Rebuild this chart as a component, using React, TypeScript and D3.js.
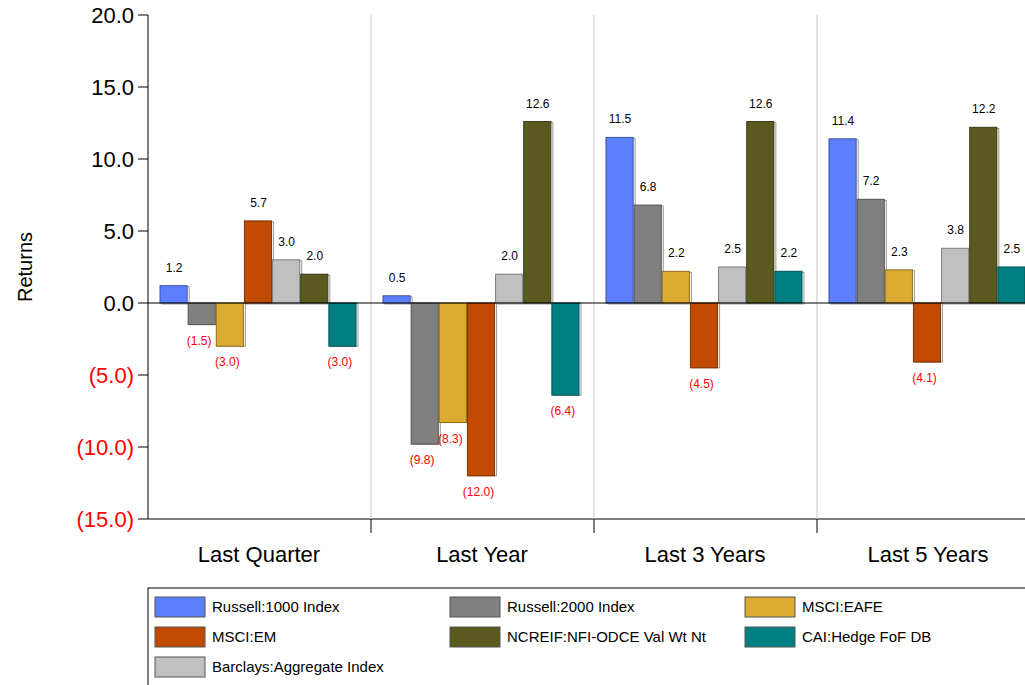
import { useEffect, useRef } from "react";
import * as d3 from "d3";

const PERIODS = ["Last Quarter", "Last Year", "Last 3 Years", "Last 5 Years"];
const SERIES = [
  "Russell:1000 Index",
  "Russell:2000 Index",
  "MSCI:EAFE",
  "MSCI:EM",
  "NCREIF:NFI-ODCE Val Wt Nt",
  "CAI:Hedge FoF DB",
  "Barclays:Aggregate Index",
];
const COLORS = ["#5b7fff", "#808080", "#dcab31", "#c04a00", "#5a5a20", "#008080", "#c0c0c0"];
// values per period, in SERIES order
const R1000 = [1.2, 0.5, 11.5, 11.4];
const R2000 = [-1.5, -9.8, 6.8, 7.2];
const EAFE = [-3.0, -8.3, 2.2, 2.3];
const EM = [5.7, -12.0, -4.5, -4.1];
const NCREIF = [2.0, 12.6, 12.6, 12.2];
const HEDGE = [-3.0, -6.4, 2.2, 2.5];
const BARC = [3.0, 2.0, 2.5, 3.8];
const VALUES = [R1000, R2000, EAFE, EM, NCREIF, HEDGE, BARC];
// bar order in each group
const BAR_ORDER = [0, 1, 2, 3, 6, 4, 5];
const Y_TICKS = [20, 15, 10, 5, 0, -5, -10, -15];

const fmt = (v: number) => (v < 0 ? `(${Math.abs(v).toFixed(1)})` : v.toFixed(1));

const App = () => {
  const svgRef = useRef<SVGSVGElement | null>(null);

  useEffect(() => {
    if (!svgRef.current) return;
    const svg = d3.select(svgRef.current);
    svg.selectAll("*").remove();
    svg.style("font-family", "Liberation Sans, Arial, sans-serif");

    const left = 148;
    const x = d3.scaleBand<string>().domain(PERIODS).range([left, left + 223 * 4]);
    const y = d3.scaleLinear().domain([-15, 20]).range([519, 15]);
    const inner = d3
      .scaleBand<number>()
      .domain(BAR_ORDER)
      .range([12, 223 - 14]);

    // axis lines
    svg.append("line").attr("x1", left).attr("x2", left).attr("y1", 15).attr("y2", 519).attr("stroke", "#000");
    svg.append("line").attr("x1", left).attr("x2", 1025).attr("y1", 519).attr("y2", 519).attr("stroke", "#000");
    PERIODS.slice(1).forEach((p) => {
      const px = x(p)!;
      svg.append("line").attr("x1", px).attr("x2", px).attr("y1", 15).attr("y2", 519).attr("stroke", "#c8c8c8");
      svg.append("line").attr("x1", px).attr("x2", px).attr("y1", 519).attr("y2", 533).attr("stroke", "#000");
    });

    Y_TICKS.forEach((t) => {
      svg.append("line").attr("x1", left - 10).attr("x2", left).attr("y1", y(t)).attr("y2", y(t)).attr("stroke", "#000");
      svg
        .append("text")
        .attr("x", left - 14)
        .attr("y", y(t))
        .attr("dy", "0.35em")
        .attr("text-anchor", "end")
        .attr("font-size", 22)
        .attr("fill", t < 0 ? "#ff0000" : "#000")
        .text(fmt(t));
    });

    svg
      .append("text")
      .attr("transform", `translate(32, ${y(2.5)}) rotate(-90)`)
      .attr("text-anchor", "middle")
      .attr("font-size", 20)
      .text("Returns");

    PERIODS.forEach((p, pi) => {
      const g = svg.append("g").attr("transform", `translate(${x(p)},0)`);
      BAR_ORDER.forEach((si) => {
        const v = VALUES[si][pi];
        const bx = inner(si)!;
        const bw = inner.bandwidth();
        const top = y(Math.max(0, v));
        const h = Math.abs(y(v) - y(0));
        const c = COLORS[si];
        g.append("rect")
          .attr("x", bx + 2)
          .attr("y", top + (v > 0 ? 1 : 0))
          .attr("width", bw - 1)
          .attr("height", h)
          .attr("fill", "none")
          .attr("stroke", "#999")
          .attr("stroke-width", 1);
        g.append("rect")
          .attr("x", bx)
          .attr("y", top)
          .attr("width", bw - 1)
          .attr("height", h)
          .attr("fill", c)
          .attr("stroke", d3.color(c)!.darker(1.2).toString())
          .attr("stroke-width", 1);
        g.append("text")
          .attr("x", bx + bw / 2 - (v < 0 ? 3 : 0))
          .attr("y", v >= 0 ? y(v) - 14 : y(v) + 20)
          .attr("text-anchor", "middle")
          .attr("font-size", 12)
          .attr("fill", v < 0 ? "#ff0000" : "#000")
          .text(fmt(v));
      });
      svg
        .append("text")
        .attr("x", x(p)! + 111)
        .attr("y", 562)
        .attr("text-anchor", "middle")
        .attr("font-size", 22)
        .text(p);
    });

    svg.append("line").attr("x1", left).attr("x2", 1025).attr("y1", y(0)).attr("y2", y(0)).attr("stroke", "#000");

    // legend
    svg.append("rect").attr("x", left).attr("y", 588).attr("width", 900).attr("height", 100).attr("fill", "#fff").attr("stroke", "#000");
    SERIES.forEach((s, i) => {
      const lx = 155 + (i % 3) * 295;
      const ly = 597 + Math.floor(i / 3) * 30;
      svg.append("rect").attr("x", lx).attr("y", ly).attr("width", 50).attr("height", 20).attr("fill", COLORS[i]).attr("stroke", "#555");
      svg.append("text").attr("x", lx + 57).attr("y", ly + 10).attr("dy", "0.35em").attr("font-size", 15).text(s);
    });
  }, []);

  return (
    <div style={{ position: "absolute", left: 0, top: 0 }}>
      <svg ref={svgRef} width={1025} height={685} />
    </div>
  );
};

export default App;
